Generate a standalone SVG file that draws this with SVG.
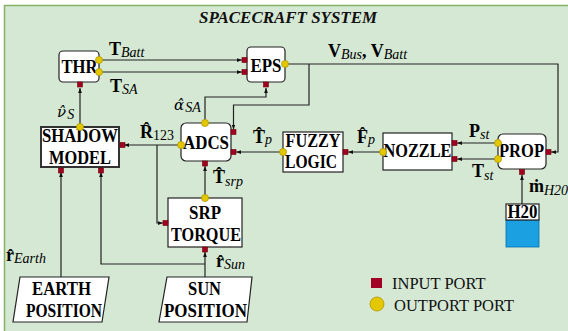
<svg xmlns="http://www.w3.org/2000/svg" width="568" height="331" viewBox="0 0 568 331">
<defs>
<marker id="ah" viewBox="0 0 8 6" refX="8" refY="3" markerWidth="5" markerHeight="4" orient="auto" markerUnits="userSpaceOnUse">
<path d="M0,0 L8,3 L0,6 Z" fill="#111"/>
</marker>
</defs>
<style>
.bg{fill:#d5e8d4;stroke:#82b366;stroke-width:1.5}
.box{fill:#fff;stroke:#222;stroke-width:1.2}
.boxb{fill:#fff;stroke:#333;stroke-width:2}
.nl{font-family:"Liberation Serif",serif;font-weight:bold;font-size:18px;fill:#000;text-anchor:middle}
.w{fill:none;stroke:#222;stroke-width:1.2;marker-end:url(#ah)}
.ip{fill:#a20025;stroke:#6f0000;stroke-width:0.6}
.op{fill:#e3c800;stroke:#b09500;stroke-width:0.8}
.m{font-family:"Liberation Serif",serif;font-weight:bold;font-size:18px;fill:#000}
.mi{font-family:"DejaVu Serif",serif;font-style:italic;font-size:15px;fill:#000}
.s{font-family:"Liberation Serif",serif;font-style:italic;font-weight:normal;font-size:14px}
.su{font-family:"Liberation Serif",serif;font-style:normal;font-weight:normal;font-size:14px}
.lg{font-family:"Liberation Serif",serif;font-size:16.5px;fill:#111}
.tt{font-family:"Liberation Serif",serif;font-weight:bold;font-style:italic;font-size:16.5px;fill:#111;text-anchor:middle}
</style>
<rect class="bg" x="4.5" y="5.5" width="570" height="330"/>
<text class="tt" x="288" y="23" textLength="178" lengthAdjust="spacingAndGlyphs">SPACECRAFT SYSTEM</text>

<g id="connectors">
<path class="w" d="M99,60 H242"/>
<path class="w" d="M99,72 H242"/>
<path class="w" d="M205,123 V97 H266 V88"/>
<path class="w" d="M285,64 H558 V152 H551"/>
<path class="w" d="M309,64 V105 H233.5 V129.5"/>
<path class="w" d="M283,152 H236"/>
<path class="w" d="M383,152 H348"/>
<path class="w" d="M498,143 H457"/>
<path class="w" d="M498,159 H457"/>
<path class="w" d="M522,204 V175"/>
<path class="w" d="M181,145 H124"/>
<path class="w" d="M157,145 V223 H163"/>
<path class="w" d="M205,198 V166"/>
<path class="w" d="M80,126 V88"/>
<path class="w" d="M61,277 V172"/>
<path class="w" d="M205,277 V252"/>
<path class="w" d="M205,264 H101 V172"/>
</g>

<g id="thr">
<rect class="box" x="59" y="51" width="40" height="31" rx="4"/>
<text class="nl" x="79.5" y="73" textLength="36" lengthAdjust="spacingAndGlyphs">THR</text>
<circle class="op" cx="99" cy="60" r="3.5"/>
<circle class="op" cx="99" cy="72" r="3.5"/>
<rect class="ip" x="77.5" y="82" width="5" height="5"/>
</g>

<g id="eps">
<rect class="box" x="247" y="47" width="38" height="35" rx="4"/>
<text class="nl" x="266" y="72" textLength="31" lengthAdjust="spacingAndGlyphs">EPS</text>
<rect class="ip" x="242" y="57.5" width="5" height="5"/>
<rect class="ip" x="242" y="69.5" width="5" height="5"/>
<rect class="ip" x="263.5" y="82" width="5" height="5"/>
<circle class="op" cx="285" cy="64" r="3.5"/>
</g>

<g id="adcs">
<rect class="box" x="181" y="123" width="50" height="38" rx="5"/>
<text class="nl" x="206" y="149" textLength="46" lengthAdjust="spacingAndGlyphs">ADCS</text>
<circle class="op" cx="205" cy="123" r="3.5"/>
<circle class="op" cx="181" cy="145" r="3.5"/>
<rect class="ip" x="231" y="129.5" width="5" height="5"/>
<rect class="ip" x="231" y="149.5" width="5" height="5"/>
<rect class="ip" x="202.5" y="161" width="5" height="5"/>
</g>

<g id="shadow">
<rect class="boxb" x="41" y="127" width="78" height="40"/>
<text class="nl" x="80" y="142" textLength="76" lengthAdjust="spacingAndGlyphs">SHADOW</text>
<text class="nl" x="80" y="164" textLength="62" lengthAdjust="spacingAndGlyphs">MODEL</text>
<circle class="op" cx="80" cy="127" r="3.5"/>
<rect class="ip" x="120" y="142.5" width="5" height="5"/>
<rect class="ip" x="58.5" y="168" width="5" height="5"/>
<rect class="ip" x="98.5" y="168" width="5" height="5"/>
</g>

<g id="fuzzy">
<rect class="box" x="283" y="132" width="60" height="40"/>
<text class="nl" x="313" y="147" textLength="55" lengthAdjust="spacingAndGlyphs">FUZZY</text>
<text class="nl" x="311" y="168" textLength="52" lengthAdjust="spacingAndGlyphs">LOGIC</text>
<circle class="op" cx="283" cy="152" r="3.5"/>
<rect class="ip" x="343" y="149.5" width="5" height="5"/>
</g>

<g id="nozzle">
<rect class="box" x="383" y="133" width="69" height="37"/>
<text class="nl" x="417.5" y="157" textLength="68" lengthAdjust="spacingAndGlyphs">NOZZLE</text>
<circle class="op" cx="383" cy="152" r="3.5"/>
<rect class="ip" x="452" y="140.5" width="5" height="5"/>
<rect class="ip" x="452" y="156.5" width="5" height="5"/>
</g>

<g id="prop">
<rect class="box" x="498" y="134" width="48" height="35" rx="5"/>
<text class="nl" x="521.5" y="157" textLength="45" lengthAdjust="spacingAndGlyphs">PROP</text>
<circle class="op" cx="498" cy="143" r="3.5"/>
<circle class="op" cx="498" cy="159" r="3.5"/>
<rect class="ip" x="546" y="149.5" width="5" height="5"/>
<rect class="ip" x="519.5" y="169.5" width="5" height="5"/>
</g>

<g id="h20">
<rect x="506" y="220" width="33" height="27" fill="#1ba1e2" stroke="#006eaf" stroke-width="0.8"/>
<rect class="box" x="506" y="204" width="33" height="16"/>
<text class="nl" x="522.5" y="218" font-size="16" textLength="30" lengthAdjust="spacingAndGlyphs">H20</text>
</g>

<g id="srp">
<rect class="box" x="168" y="198" width="74" height="49"/>
<text class="nl" x="205" y="219" textLength="32" lengthAdjust="spacingAndGlyphs">SRP</text>
<text class="nl" x="206" y="241" textLength="70" lengthAdjust="spacingAndGlyphs">TORQUE</text>
<circle class="op" cx="205" cy="198" r="3.5"/>
<rect class="ip" x="163" y="220.5" width="5" height="5"/>
<rect class="ip" x="202.5" y="247" width="5" height="5"/>
</g>

<g id="earth">
<path class="box" d="M20,277 H109 L102,322 H13 Z"/>
<text class="nl" x="61.5" y="295" textLength="59" lengthAdjust="spacingAndGlyphs">EARTH</text>
<text class="nl" x="64" y="317" textLength="76" lengthAdjust="spacingAndGlyphs">POSITION</text>
</g>

<g id="sun">
<path class="box" d="M167,277 H252 L247,322 H159 Z"/>
<text class="nl" x="204.5" y="295" textLength="33" lengthAdjust="spacingAndGlyphs">SUN</text>
<text class="nl" x="205.5" y="317" textLength="83" lengthAdjust="spacingAndGlyphs">POSITION</text>
</g>

<g id="labels">
<text class="m" x="109" y="55">T<tspan class="s" dy="2">Batt</tspan></text>
<text class="m" x="110" y="92">T<tspan class="s" dy="2">SA</tspan></text>
<text class="m" x="328" y="57">V<tspan class="s" dy="2">Bus</tspan><tspan dy="-2">, V</tspan><tspan class="s" dy="2">Batt</tspan></text>
<text class="mi" x="174" y="110">α&#x302;<tspan class="s" dx="1" dy="2">SA</tspan></text>
<text class="mi" x="57" y="117">ν&#x302;<tspan class="s" dx="1" dy="2">S</tspan></text>
<text class="m" x="140" y="138">R&#x302;<tspan class="su" dy="2">123</tspan></text>
<text class="m" x="253" y="143">T&#x302;<tspan class="s" dy="1">p</tspan></text>
<text class="m" x="357" y="143">F&#x302;<tspan class="s" dy="1">p</tspan></text>
<text class="m" x="213" y="183">T&#x302;<tspan class="s" dy="3">srp</tspan></text>
<text class="m" x="469" y="137">P<tspan class="s" dy="2">st</tspan></text>
<text class="m" x="472" y="177">T<tspan class="s" dy="3">st</tspan></text>
<text class="m" x="529" y="192">m&#x307;<tspan class="s" dy="3">H20</tspan></text>
<text class="m" x="6" y="261">r&#x302;<tspan class="s" dy="2">Earth</tspan></text>
<text class="m" x="216" y="267">r&#x302;<tspan class="s" dy="2">Sun</tspan></text>
</g>

<g id="legend">
<rect x="371" y="278" width="11" height="10" fill="#a20025"/>
<text class="lg" x="392" y="289">INPUT PORT</text>
<circle class="op" cx="377" cy="304" r="7"/>
<text class="lg" x="394" y="311">OUTPORT PORT</text>
</g>
</svg>
